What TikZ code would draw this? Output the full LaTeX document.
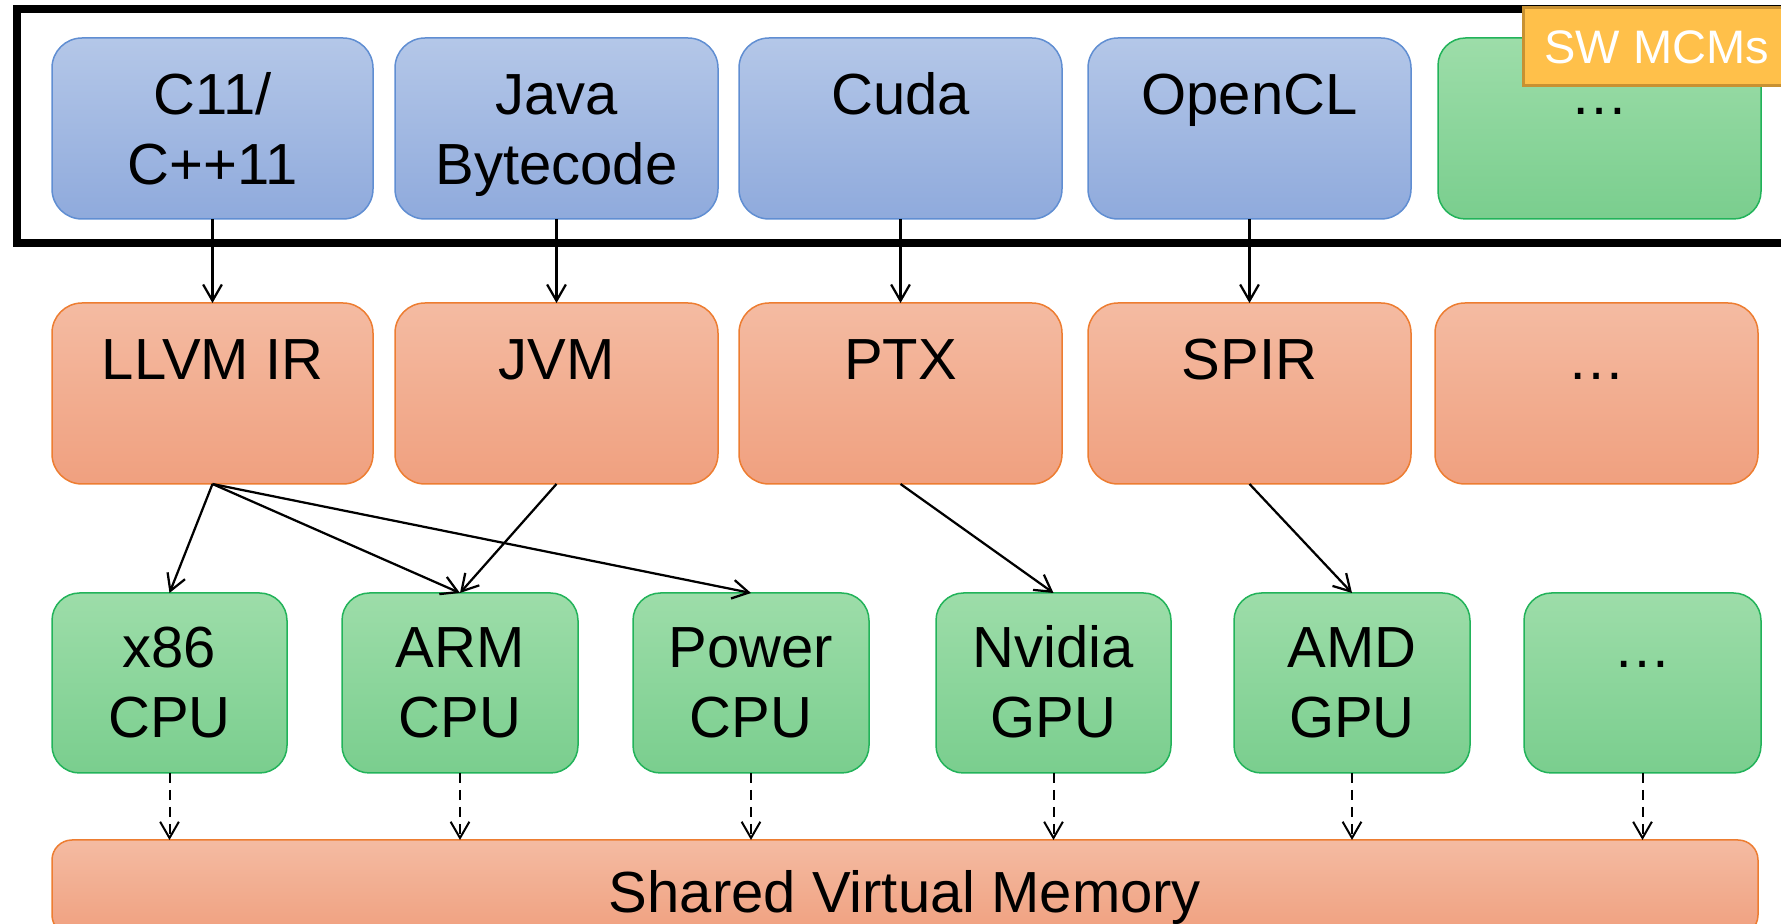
\documentclass[tikz,border=0pt]{standalone}
\usepackage{fontspec}
\setmainfont{Liberation Sans}
\usetikzlibrary{arrows.meta}
\definecolor{btop}{RGB}{180,199,232}
\definecolor{bbot}{RGB}{143,170,220}
\definecolor{bdraw}{RGB}{96,142,210}
\definecolor{otop}{RGB}{244,187,162}
\definecolor{obot}{RGB}{240,160,127}
\definecolor{odraw}{RGB}{237,125,49}
\definecolor{gtop}{RGB}{157,221,169}
\definecolor{gbot}{RGB}{122,206,142}
\definecolor{gdraw}{RGB}{34,179,90}
\definecolor{swfill}{RGB}{255,192,74}
\definecolor{swdraw}{RGB}{200,145,50}
\newcommand\mkbox[6]{\node[#6, minimum width={(#4-#2)*0.4pt}, minimum height={(#5-#3)*0.4pt}] (#1) at ({(#2+#4)/2},{(#3+#5)/2}) {};}
\newcommand\tl[2]{\begin{tabular}[t]{@{}c@{}}#1\\#2\end{tabular}}
\tikzset{
  boxbase/.style={rectangle, inner sep=0pt, outer sep=0pt, line width=0.6pt},
  bluebox/.style={boxbase, rounded corners=12pt, top color=btop, bottom color=bbot, draw=bdraw},
  orangebox/.style={boxbase, rounded corners=12pt, top color=otop, bottom color=obot, draw=odraw},
  greenbox/.style={boxbase, rounded corners=11pt, top color=gtop, bottom color=gbot, draw=gdraw},
  membox/.style={boxbase, rounded corners=8pt, top color=otop, bottom color=obot, draw=odraw},
  lbl/.style={inner sep=0pt, font=\fontsize{23.2}{28}\selectfont, anchor=base},
  arr/.style={line width=0.9pt, -{Straight Barb[length=6.5pt, width=7.5pt]}},
  darr/.style={line width=0.8pt, dash pattern=on 4pt off 2.8pt, -{Straight Barb[length=6.5pt, width=7.5pt]}},
}
\begin{document}
\begin{tikzpicture}[x=0.4pt, y=-0.4pt]
\useasboundingbox (0,0) rectangle (1781,924);
\clip (0,0) rectangle (1781,924);
% frame
\draw[line width=3.2pt] (17,9) rectangle (1830,243);
% top row
\mkbox{c11}{52}{38}{373}{219}{bluebox}
\mkbox{java}{395}{38}{718}{219}{bluebox}
\mkbox{cuda}{739}{38}{1062}{219}{bluebox}
\mkbox{ocl}{1088}{38}{1411}{219}{bluebox}
\mkbox{tdots}{1438}{38}{1761}{219}{greenbox}
\node[lbl] (c11t) at ([yshift={-77*0.4pt}]c11.north) {\tl{C11/}{C++11}};
\node[lbl] (javat) at ([yshift={-77*0.4pt}]java.north) {\tl{Java}{Bytecode}};
\node[lbl] (cudat) at ([yshift={-77*0.4pt}]cuda.north) {Cuda};
\node[lbl] (oclt) at ([yshift={-77*0.4pt}]ocl.north) {OpenCL};
\node[lbl] (tdotst) at ([yshift={-77*0.4pt}]tdots.north) {…};
% SW MCMs label
\node[fill=swfill, draw=swdraw, line width=1.2pt, anchor=west, minimum height=31.2pt, inner xsep=8.4pt, inner ysep=0pt, text=white, font=\fontsize{18.8}{22}\selectfont] (sw) at (1522,47) {SW MCMs};
% middle row
\mkbox{llvm}{52}{303}{373}{484}{orangebox}
\mkbox{jvm}{395}{303}{718}{484}{orangebox}
\mkbox{ptx}{739}{303}{1062}{484}{orangebox}
\mkbox{spir}{1088}{303}{1411}{484}{orangebox}
\mkbox{mdots}{1435}{303}{1758}{484}{orangebox}
\node[lbl] (llvmt) at ([yshift={-77*0.4pt}]llvm.north) {LLVM IR};
\node[lbl] (jvmt) at ([yshift={-77*0.4pt}]jvm.north) {JVM};
\node[lbl] (ptxt) at ([yshift={-77*0.4pt}]ptx.north) {PTX};
\node[lbl] (spirt) at ([yshift={-77*0.4pt}]spir.north) {SPIR};
\node[lbl] (mdotst) at ([yshift={-77*0.4pt}]mdots.north) {…};
% bottom row
\mkbox{x86}{52}{593}{287}{773}{greenbox}
\mkbox{arm}{342}{593}{578}{773}{greenbox}
\mkbox{pow}{633}{593}{869}{773}{greenbox}
\mkbox{nv}{936}{593}{1171}{773}{greenbox}
\mkbox{amd}{1234}{593}{1470}{773}{greenbox}
\mkbox{bdots}{1524}{593}{1761}{773}{greenbox}
\node[lbl] (x86t) at ([yshift={-75*0.4pt}]x86.north) {\tl{x86}{CPU}};
\node[lbl] (armt) at ([yshift={-75*0.4pt}]arm.north) {\tl{ARM}{CPU}};
\node[lbl] (powt) at ([yshift={-75*0.4pt}]pow.north) {\tl{Power}{CPU}};
\node[lbl] (nvt) at ([yshift={-75*0.4pt}]nv.north) {\tl{Nvidia}{GPU}};
\node[lbl] (amdt) at ([yshift={-75*0.4pt}]amd.north) {\tl{AMD}{GPU}};
\node[lbl] (bdotst) at ([yshift={-75*0.4pt}]bdots.north) {…};
% memory
\mkbox{mem}{52}{840}{1758}{935}{membox}
\node[lbl] (memt) at ([yshift={-73*0.4pt}]mem.north) {Shared Virtual Memory};
% arrows top -> middle
\draw[arr] (c11.south) -- (llvm.north);
\draw[arr] (java.south) -- (jvm.north);
\draw[arr] (cuda.south) -- (ptx.north);
\draw[arr] (ocl.south) -- (spir.north);
% middle -> bottom
\draw[arr] (llvm.south) -- (x86.north);
\draw[arr] (llvm.south) -- (arm.north);
\draw[arr] (llvm.south) -- (pow.north);
\draw[arr] (jvm.south) -- (arm.north);
\draw[arr] (ptx.south) -- (nv.north);
\draw[arr] (spir.south) -- (amd.north);
% bottom -> memory
\foreach \n in {x86,arm,pow,nv,amd,bdots}
  \draw[darr] (\n.south) -- (\n.south |- mem.north);
\end{tikzpicture}
\end{document}
